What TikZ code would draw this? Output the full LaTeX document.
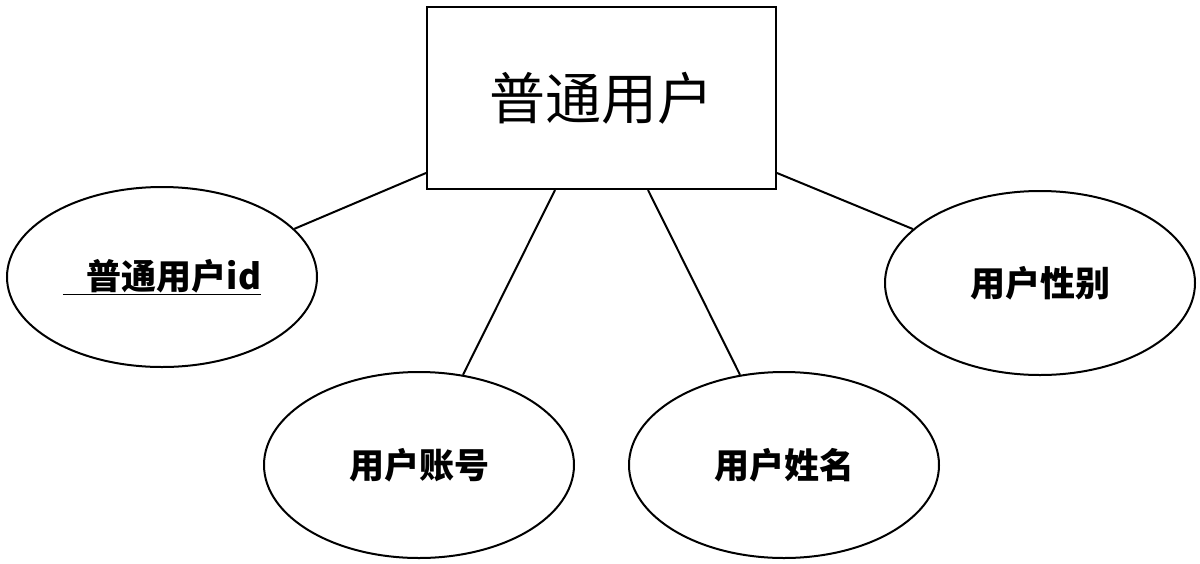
\documentclass[tikz,border=0pt]{standalone}
\usepackage{fontspec}
\usetikzlibrary{shapes.geometric}
\setmainfont{Noto Sans CJK SC}
\begin{document}
\begin{tikzpicture}[x=1pt,y=-1pt,
  ent/.style={draw,line width=2pt,minimum width=349pt,minimum height=182pt,font=\fontsize{56}{56}\selectfont},
  attr/.style={draw,line width=2pt,ellipse,minimum width=310pt,minimum height=184pt,inner sep=0pt,font=\bfseries\fontsize{35}{35}\selectfont},
  conn/.style={line width=2pt}]
\useasboundingbox (0,0) rectangle (1200,563);
\node[ent] (box) at (601.5,98) {普通用户};
\node[attr,minimum height=180pt] (e1) at (162,277) {\underline{\hspace{24pt}普通用户id}};
\node[attr,minimum height=186pt] (e2) at (419,465) {用户账号};
\node[attr,minimum height=186pt] (e3) at (784,465) {用户姓名};
\node[attr] (e4) at (1040,283) {用户性别};
\draw[conn] ([yshift=17pt]box.south west) -- (e1.20.6);
\draw[conn] ([xshift=-46.5pt]box.south) -- (e2.64);
\draw[conn] ([xshift=46.5pt]box.south) -- (e3.116);
\draw[conn] ([yshift=17pt]box.south east) -- (e4.157);
\end{tikzpicture}
\end{document}
